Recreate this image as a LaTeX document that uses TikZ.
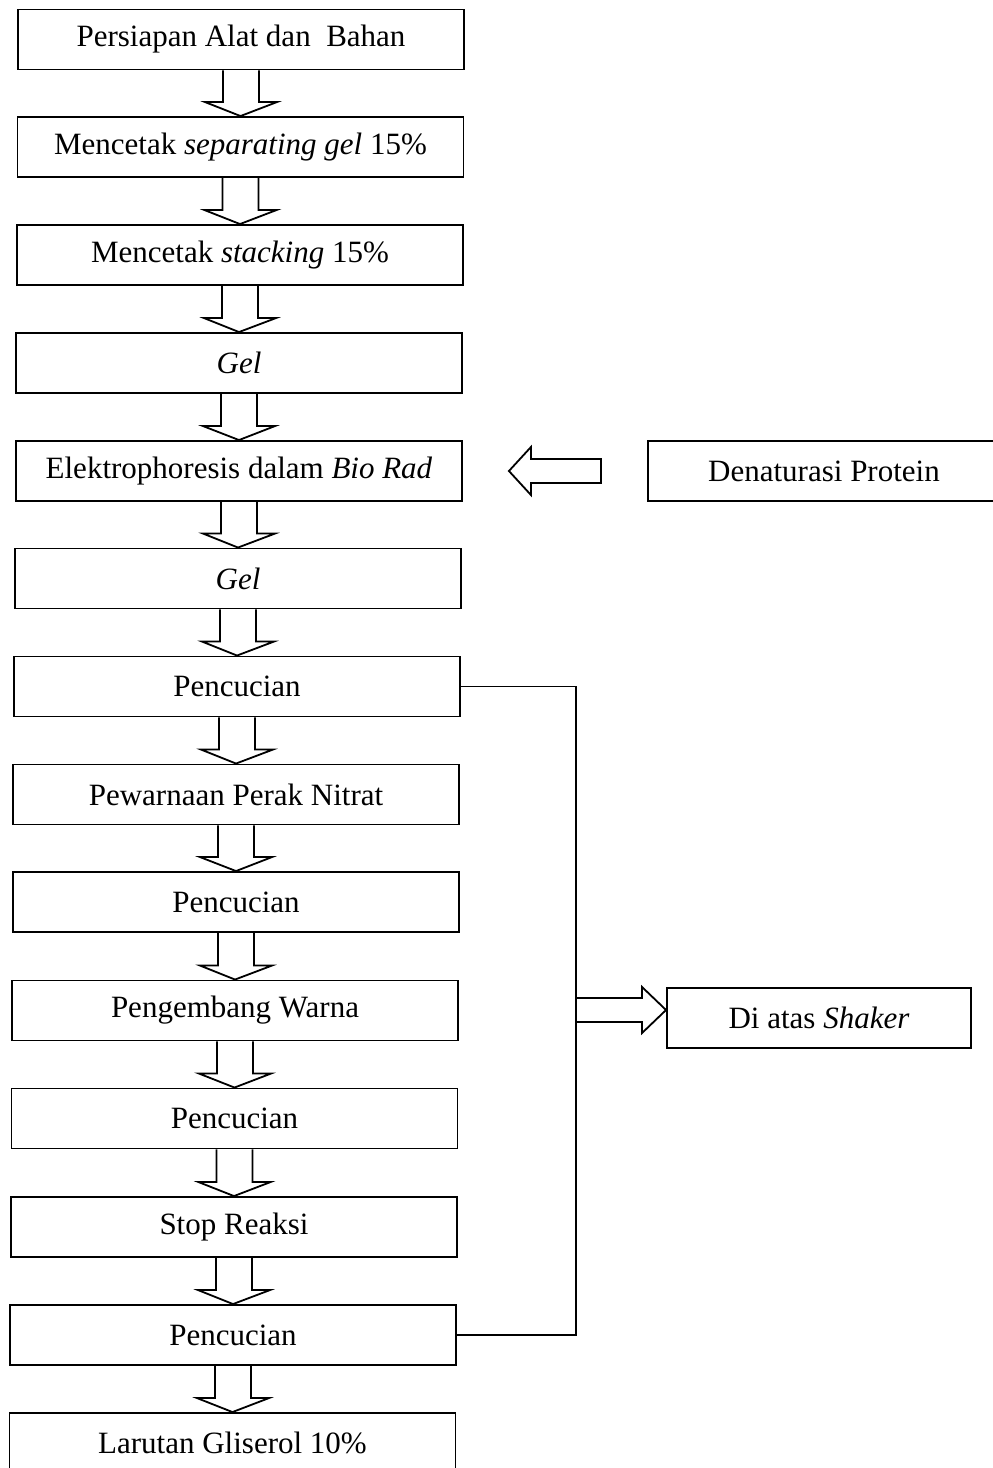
\documentclass[tikz,border=0pt]{standalone}
\usepackage{fontspec}
\setmainfont{Liberation Serif}
\usetikzlibrary{calc}
\begin{document}
\begin{tikzpicture}[x=1pt,y=-1pt,
  box/.style={draw,line width=1.9pt,minimum width=446pt,minimum height=60pt,inner sep=0pt,font=\fontsize{31}{36}\selectfont},
  fat/.style={draw,line width=1.8pt,line join=miter}]
\useasboundingbox (0,0) rectangle (993,1468);
\node[box] (b1) at (241,39.5) {Persiapan Alat dan\ \ Bahan};
\node[box] (b2) at (240.5,147) {Mencetak \textit{separating gel} 15\%};
\node[box] (b3) at (240,255) {Mencetak \textit{stacking} 15\%};
\node[box] (b4) at (239,363) {\textit{Gel}};
\node[box] (b5) at (239,471) {Elektrophoresis dalam \textit{Bio Rad}};
\node[box] (b6) at (238,578.5) {\textit{Gel}};
\node[box] (b7) at (237,686.5) {Pencucian};
\node[box] (b8) at (236,794.5) {Pewarnaan Perak Nitrat};
\node[box] (b9) at (236,902) {Pencucian};
\node[box] (b10) at (235,1010.5) {Pengembang Warna};
\node[box] (b11) at (234.5,1118.5) {Pencucian};
\node[box] (b12) at (234,1227) {Stop Reaksi};
\node[box] (b13) at (233,1335) {Pencucian};
\node[box] (b14) at (232.5,1443) {Larutan Gliserol 10\%};
\node[box,minimum width=352pt] (den) at (824,471) {Denaturasi Protein};
\node[box,minimum width=304pt] (sh) at (819,1018) {Di atas \textit{Shaker}};
\newcommand\fatdown[2]{%
  \draw[fat] let \p1=(#1.south), \p2=(#2.north) in
    (\x1-18pt,\y1) -- (\x1-18pt,\y2+14pt) -- (\x1-36pt,\y2+14pt) -- (\x2,\y2)
    -- (\x1+36pt,\y2+14pt) -- (\x1+18pt,\y2+14pt) -- (\x1+18pt,\y1);}
\foreach \a/\b in {b1/b2,b2/b3,b3/b4,b4/b5,b5/b6,b6/b7,b7/b8,b8/b9,b9/b10,b10/b11,b11/b12,b12/b13,b13/b14}{\fatdown{\a}{\b}}
% left arrow from Denaturasi to Elektrophoresis
\draw[fat] let \p1=(den.west), \p2=(b5.east) in
  (\x1-46pt,\y1-12pt) -- (\x2+68pt,\y1-12pt) -- (\x2+68pt,\y1-24pt) -- (\x2+46pt,\y1)
  -- (\x2+68pt,\y1+24pt) -- (\x2+68pt,\y1+12pt) -- (\x1-46pt,\y1+12pt) -- cycle;
% bus line
\draw[line width=1.9pt] (b7.east) -- ++(115,0) coordinate (bt) |- (b13.east);
\coordinate (j) at (575,1010);
\draw[fat] let \p1=(j), \p2=(sh.west) in
  (\x1,\y1-12pt) -- (\x2-24pt,\y1-12pt) -- (\x2-24pt,\y1-23pt) -- (\x2,\y1)
  -- (\x2-24pt,\y1+23pt) -- (\x2-24pt,\y1+12pt) -- (\x1,\y1+12pt);
\end{tikzpicture}
\end{document}
